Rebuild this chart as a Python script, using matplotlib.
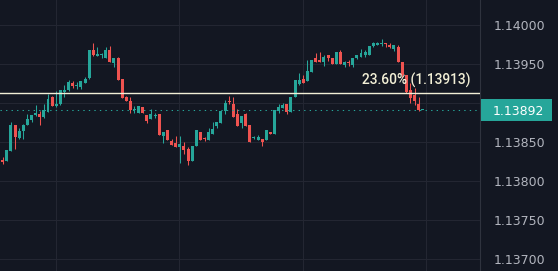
import matplotlib
matplotlib.use("Agg")
import matplotlib.pyplot as plt
import matplotlib.patches as mpatches
import numpy as np

# ---- data (EUR/USD-like candles) ----
opens = [1.13827, 1.13826, 1.13839, 1.13872, 1.13856, 1.13865, 1.13872, 1.13879, 1.13885, 1.13886,
         1.13882, 1.13889, 1.13908, 1.13897, 1.13899, 1.13915, 1.13917, 1.13926, 1.13922, 1.13921,
         1.13926, 1.13932, 1.13968, 1.13961, 1.13962, 1.13958, 1.13968, 1.13952, 1.13958, 1.13931,
         1.13908, 1.13903, 1.13891, 1.13888, 1.13895, 1.13885, 1.13880, 1.13884, 1.13886, 1.13858,
         1.13866, 1.13852, 1.13849, 1.13844, 1.13845, 1.13841, 1.13826, 1.13845, 1.13863, 1.13856,
         1.13853, 1.13861, 1.13871, 1.13875, 1.13890, 1.13903, 1.13899, 1.13886, 1.13875, 1.13886,
         1.13872, 1.13855, 1.13853, 1.13854, 1.13853, 1.13863, 1.13861, 1.13890, 1.13894, 1.13899,
         1.13889, 1.13908, 1.13925, 1.13931, 1.13929, 1.13940, 1.13958, 1.13956, 1.13953, 1.13962,
         1.13958, 1.13950, 1.13966, 1.13949, 1.13953, 1.13949, 1.13958, 1.13959, 1.13962, 1.13962,
         1.13974, 1.13975, 1.13976, 1.13977, 1.13975, 1.13970, 1.13972, 1.13953, 1.13936, 1.13917,
         1.13911, 1.13899, 1.13892]
highs = [1.13831, 1.13840, 1.13876, 1.13872, 1.13868, 1.13873, 1.13886, 1.13885, 1.13898, 1.13890,
         1.13899, 1.13912, 1.13909, 1.13916, 1.13917, 1.13923, 1.13930, 1.13929, 1.13927, 1.13929,
         1.13934, 1.13968, 1.13977, 1.13972, 1.13964, 1.13972, 1.13973, 1.13958, 1.13959, 1.13931,
         1.13909, 1.13908, 1.13897, 1.13897, 1.13895, 1.13885, 1.13893, 1.13888, 1.13886, 1.13863,
         1.13866, 1.13854, 1.13858, 1.13858, 1.13850, 1.13844, 1.13845, 1.13866, 1.13863, 1.13857,
         1.13868, 1.13876, 1.13876, 1.13890, 1.13904, 1.13909, 1.13908, 1.13893, 1.13884, 1.13888,
         1.13872, 1.13858, 1.13859, 1.13854, 1.13866, 1.13863, 1.13891, 1.13899, 1.13900, 1.13899,
         1.13908, 1.13930, 1.13939, 1.13936, 1.13956, 1.13956, 1.13965, 1.13966, 1.13962, 1.13962,
         1.13958, 1.13966, 1.13968, 1.13954, 1.13955, 1.13958, 1.13962, 1.13970, 1.13968, 1.13974,
         1.13979, 1.13979, 1.13982, 1.13977, 1.13977, 1.13975, 1.13975, 1.13953, 1.13936, 1.13926,
         1.13920, 1.13908, 1.13892]
lows = [1.13822, 1.13826, 1.13839, 1.13841, 1.13854, 1.13854, 1.13872, 1.13876, 1.13884, 1.13872,
        1.13881, 1.13889, 1.13897, 1.13895, 1.13898, 1.13908, 1.13916, 1.13920, 1.13918, 1.13918,
        1.13926, 1.13931, 1.13961, 1.13961, 1.13958, 1.13958, 1.13953, 1.13947, 1.13930, 1.13907,
        1.13903, 1.13888, 1.13888, 1.13888, 1.13888, 1.13875, 1.13880, 1.13881, 1.13859, 1.13849,
        1.13853, 1.13847, 1.13844, 1.13823, 1.13835, 1.13821, 1.13826, 1.13845, 1.13853, 1.13852,
        1.13853, 1.13861, 1.13868, 1.13875, 1.13886, 1.13899, 1.13882, 1.13871, 1.13868, 1.13871,
        1.13850, 1.13854, 1.13853, 1.13845, 1.13853, 1.13861, 1.13861, 1.13888, 1.13894, 1.13886,
        1.13889, 1.13908, 1.13923, 1.13926, 1.13929, 1.13940, 1.13953, 1.13953, 1.13948, 1.13954,
        1.13950, 1.13950, 1.13950, 1.13947, 1.13948, 1.13947, 1.13957, 1.13959, 1.13959, 1.13962,
        1.13972, 1.13975, 1.13973, 1.13972, 1.13971, 1.13967, 1.13953, 1.13934, 1.13913, 1.13900,
        1.13898, 1.13890, 1.13892]
closes = [1.13825, 1.13840, 1.13872, 1.13857, 1.13865, 1.13872, 1.13880, 1.13885, 1.13888, 1.13882,
          1.13891, 1.13906, 1.13897, 1.13899, 1.13917, 1.13917, 1.13927, 1.13922, 1.13923, 1.13929,
          1.13931, 1.13968, 1.13962, 1.13963, 1.13963, 1.13968, 1.13953, 1.13958, 1.13930, 1.13907,
          1.13903, 1.13891, 1.13893, 1.13897, 1.13888, 1.13877, 1.13886, 1.13885, 1.13859, 1.13863,
          1.13853, 1.13847, 1.13844, 1.13848, 1.13840, 1.13826, 1.13845, 1.13866, 1.13853, 1.13854,
          1.13863, 1.13867, 1.13876, 1.13890, 1.13900, 1.13902, 1.13882, 1.13871, 1.13884, 1.13871,
          1.13850, 1.13857, 1.13857, 1.13850, 1.13866, 1.13861, 1.13891, 1.13895, 1.13898, 1.13889,
          1.13908, 1.13930, 1.13930, 1.13926, 1.13941, 1.13956, 1.13953, 1.13953, 1.13959, 1.13958,
          1.13950, 1.13966, 1.13950, 1.13953, 1.13951, 1.13958, 1.13962, 1.13965, 1.13966, 1.13974,
          1.13977, 1.13977, 1.13977, 1.13976, 1.13972, 1.13975, 1.13953, 1.13936, 1.13915, 1.13907,
          1.13903, 1.13892, 1.13892]
tick_values = [1.14000, 1.13950, 1.13900, 1.13850, 1.13800, 1.13750, 1.13700]
tick_labels = ["1.14000", "1.13950", "1.13900", "1.13850", "1.13800", "1.13750", "1.13700"]
fib_level = 1.13913
fib_label = "23.60% (1.13913)"
last_price = 1.13892
last_label = "1.13892"
time_grid = [12.85, 42.85, 72.85, 102.85]

# ---- style ----
BG = "#131722"
GRID = "#232632"
UP = "#26a69a"
DOWN = "#ef5350"
TXT = "#b2b5be"
FIB = "#f2efd6"

W, H = 558, 271
fig = plt.figure(figsize=(W / 100, H / 100), dpi=100, facecolor=BG)
ax = fig.add_axes([0, 0, 480 / W, 1])
ax.set_facecolor(BG)

ylo, yhi = 1.136850, 1.140324
ax.set_ylim(ylo, yhi)
ax.set_xlim(-0.66, 115.9)
px = (yhi - ylo) / H  # price per pixel

o = np.array(opens); c = np.array(closes); h = np.array(highs); l = np.array(lows)
x = np.arange(len(o))
up = c >= o
colors = np.where(up, UP, DOWN)

# grid
for v in tick_values:
    ax.axhline(v, color=GRID, lw=0.8, zorder=0)
for g in time_grid:
    ax.axvline(g, color=GRID, lw=0.8, zorder=0)

# wicks and bodies
ax.vlines(x, l, h, colors=colors, lw=0.75, zorder=2)
bottoms = np.minimum(o, c)
heights = np.maximum(np.abs(c - o), px * 1.0)
ax.bar(x, heights, bottom=bottoms, width=0.72, color=colors, lw=0, zorder=3)

# fib line
ax.axhline(fib_level, color=FIB, lw=1.0, zorder=4)
ax.annotate(fib_label, xy=(470 / 480, fib_level), xycoords=("axes fraction", "data"),
            xytext=(0, 6), textcoords="offset points", ha="right", va="baseline",
            color=FIB, fontsize=9.9, family="Roboto", fontweight="medium", zorder=5)

# last price dotted line
ax.axhline(last_price, color=UP, lw=0.75, linestyle=(0, (1.3, 4)), zorder=4)

# axes / ticks
for s in ["top", "left", "bottom"]:
    ax.spines[s].set_visible(False)
ax.spines["right"].set_color("#2f333e")
ax.spines["right"].set_linewidth(0.8)
ax.set_xticks([])
ax.yaxis.tick_right()
ax.set_yticks(tick_values)
ax.set_yticklabels(tick_labels)
ax.tick_params(axis="y", length=0, pad=9.5, labelcolor=TXT, labelsize=9)

# right panel price label
ax2 = fig.add_axes([480 / W, 0, 78 / W, 1])
ax2.set_ylim(ylo, yhi)
ax2.set_xlim(0, 78)
ax2.axis("off")
ax2.patch.set_alpha(0)
ax2.add_patch(mpatches.Rectangle((1, last_price - 11 * px), 71, 22 * px,
                                 facecolor=UP, edgecolor="none", zorder=5))
ax2.text(13, last_price, last_label, ha="left", va="center_baseline", color="white",
         fontsize=9, zorder=6)

fig.savefig("out.png", dpi=100, facecolor=BG)
